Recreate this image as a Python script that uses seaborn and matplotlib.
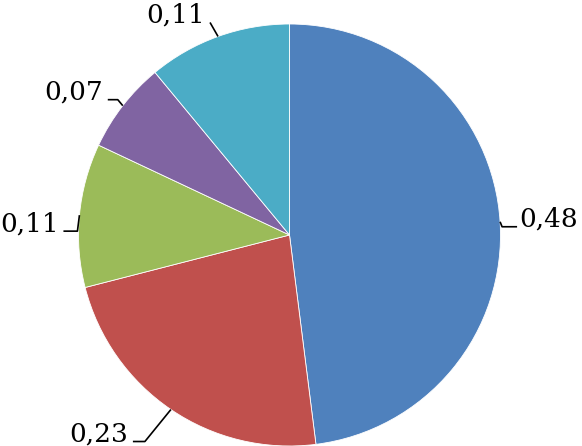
import numpy as np
import matplotlib
matplotlib.use("Agg")
import matplotlib.pyplot as plt
import seaborn as sns

# slice values, clockwise from 12 o'clock
values = [0.48, 0.23, 0.11, 0.07, 0.11]
labels = ["0,48", "0,23", "0,11", "0,07", "0,11"]
colors = ["#4F81BD", "#C0504D", "#9BBB59", "#8064A2", "#4BACC6"]

# leader line bends, in pixels from the wedge edge (x right, y down)
elbows = [(2, 5), (-26, 32), (-2, 16), (-5, -6), (-8, -14)]
ends = [(17, 5), (-38, 32), (-16, 16), (-15, -6), (-8, -14)]

W, H, DPI = 582, 446, 100
CX, CY, R = 289.5, 235, 211  # pie centre / radius in pixels

sns.set_theme(style="white")
plt.rcParams["font.family"] = ["DejaVu Serif"]

fig = plt.figure(figsize=(W / DPI, H / DPI), dpi=DPI)
ax = fig.add_axes([0, 0, 1, 1])
ax.pie(values, colors=colors, startangle=90, counterclock=False,
       radius=1, center=(0, 0),
       wedgeprops=dict(edgecolor="white", linewidth=0.6))
ax.set_xlim(-CX / R, (W - CX) / R)
ax.set_ylim(-(H - CY) / R, CY / R)
ax.set_aspect("equal")
ax.axis("off")

# label every slice at its mid angle with an Excel-style leader line
cum = np.cumsum([0] + values)
for i, lab in enumerate(labels):
    mid = np.deg2rad(90 - (cum[i] + values[i] / 2) * 360)
    x0, y0 = np.cos(mid), np.sin(mid)
    ex, ey = elbows[i]
    fx, fy = ends[i]
    xs = [x0, x0 + ex / R, x0 + fx / R]
    ys = [y0, y0 - ey / R, y0 - fy / R]
    ax.plot(xs, ys, color="black", lw=1.2, solid_capstyle="butt")
    right = np.cos(mid) > 0
    gap = 2 / R if right else -5 / R
    ax.text(xs[-1] + gap, ys[-1], lab, fontsize=19,
            ha="left" if right else "right", va="baseline", color="black")

fig.savefig("out.png", dpi=DPI)
